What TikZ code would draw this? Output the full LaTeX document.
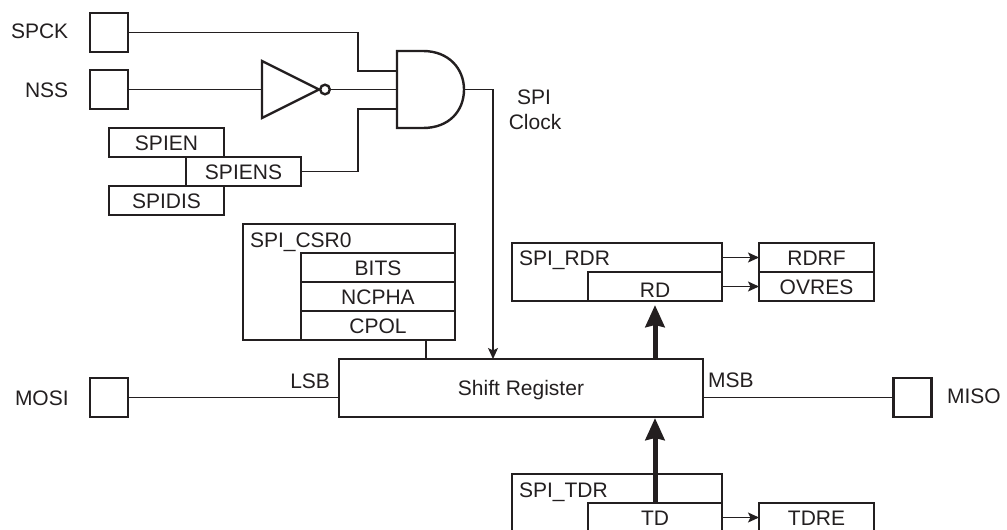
\documentclass[tikz,border=0pt]{standalone}
\usepackage{fontspec}
\setmainfont{Liberation Sans}
\usetikzlibrary{arrows.meta,calc}
\definecolor{ink}{HTML}{231F20}
\tikzset{
  x=1pt,y=-1pt,
  every node/.style={text=ink,font=\fontsize{21pt}{24pt}\selectfont,inner sep=0pt,outer sep=0pt,text height=15pt,text depth=0pt},
  box/.style={draw=ink,line width=2.4pt,rectangle,minimum width=#1},
  box/.default=115pt,
  pad/.style={box=38pt,minimum height=39pt},
  cell/.style={box=115pt,minimum height=29pt},
  wire/.style={draw=ink,line width=1.1pt},
  gate/.style={draw=ink,line width=2.4pt,line join=miter},
  flow/.style={wire,-{Stealth[length=11pt,width=10pt,inset=2.5pt]}},
  bus/.style={draw=ink,line width=5pt,-{Stealth[length=22pt,width=19pt,inset=2pt]}},
  lab/.style={anchor=west},
}
\begin{document}
\begin{tikzpicture}
\useasboundingbox (0,0) rectangle (1007,530);
\clip (0,0) rectangle (1007,530);
% pads
\node[pad] (spck) at (109,32.5) {};
\node[pad] (nss) at (109,89.5) {};
\node[pad] (mosi) at (109,397.5) {};
\node[pad] (miso) at (912.5,397.5) {};
\node[lab] (tspck) at (11,31) {SPCK};
\node[lab] (tnss) at (25,90) {NSS};
\node[lab] (tmosi) at (15,398) {MOSI};
\node[lab] (tmiso) at (947,396) {MISO};
% enable registers
\node[cell] (spien) at (166.5,142.5) {SPIEN};
\node[cell] (spidis) at (166.5,200.5) {SPIDIS\hspace{10pt}};
\node[cell,fill=white] (spiens) at (243.5,171.5) {SPIENS};
% inverter
\coordinate (invin) at (262,89.5);
\coordinate (invout) at (330,89.5);
\draw[gate] (262,61) -- (319,89.5) -- (262,118) -- cycle;
\draw[gate,fill=white] (325,89.5) circle (4.8);
% and gate
\coordinate (anda) at (397,71);
\coordinate (andb) at (397,89.5);
\coordinate (andc) at (397,109);
\coordinate (andout) at (464,89.5);
\coordinate (clk) at (493,89.5);
\draw[gate] (397,51) -- (423,51) .. controls (449,51) and (464,69) .. (464,89.5) .. controls (464,111) and (449,128) .. (423,128) -- (397,128) -- cycle;
% wires
\draw[wire] (spck.east) -| (358,71) -- (anda);
\draw[wire] (nss.east) -- (invin);
\draw[wire] (invout) -- (andb);
\draw[wire] (spiens.east) -| (358,109) -- (andc);
% SPI_CSR0
\node[box=212pt,minimum height=116pt] (csr) at (349,282) {};
\node[lab] (tcsr) at (250,240) {SPI\_CSR0};
\node[box=154pt,minimum height=29pt] (bits) at (378,267.5) {BITS};
\node[box=154pt,minimum height=29pt] (ncpha) at (378,296.5) {NCPHA};
\node[box=154pt,minimum height=29pt] (cpol) at (378,325.5) {CPOL};
% shift register
\node[box=364pt,minimum height=58pt] (shift) at (521,388) {Shift Register};
\node[anchor=east] (lsb) at (330,381) {LSB};
\node[lab] (msb) at (708,380) {MSB};
\node (spi) at (534,97) {SPI};
\node (clock) at (535,122) {Clock};
\coordinate (csrtap) at (426,340);
\draw[wire] (csrtap) -- (csrtap |- shift.north);
\draw[flow] (andout) -- (clk) -- (clk |- shift.north);
\draw[wire] (mosi.east) -- (mosi.east -| shift.west);
\draw[wire] (miso.west) -- (miso.west -| shift.east);
% SPI_RDR
\node[box=210pt,minimum height=58pt] (rdr) at (617,272) {};
\node[lab] (trdr) at (519,258) {SPI\_RDR};
\node[box=134pt,minimum height=29pt] (rd) at (655,286.5) {\raisebox{-3pt}{RD}};
\node[cell] (rdrf) at (816.5,257.5) {RDRF};
\node[cell] (ovres) at (816.5,286.5) {OVRES};
\draw[flow] (rdrf.west -| rdr.east) -- (rdrf.west);
\draw[flow] (rd.east) -- (ovres.west);
% SPI_TDR
\node[box=210pt,minimum height=58pt] (tdr) at (617,503) {};
\node[lab] (ttdr) at (519,490) {SPI\_TDR};
\node[box=134pt,minimum height=29pt] (td) at (655,517.5) {TD};
\node[cell] (tdre) at (816.5,517.5) {TDRE};
\draw[flow] (td.east) -- (tdre.west);
% buses
\draw[bus,shorten >=4pt] (shift.north -| rd.south) -- (rd.south);
\draw[bus,shorten >=1pt] (td.north) -- (td.north |- shift.south);
\end{tikzpicture}
\end{document}
